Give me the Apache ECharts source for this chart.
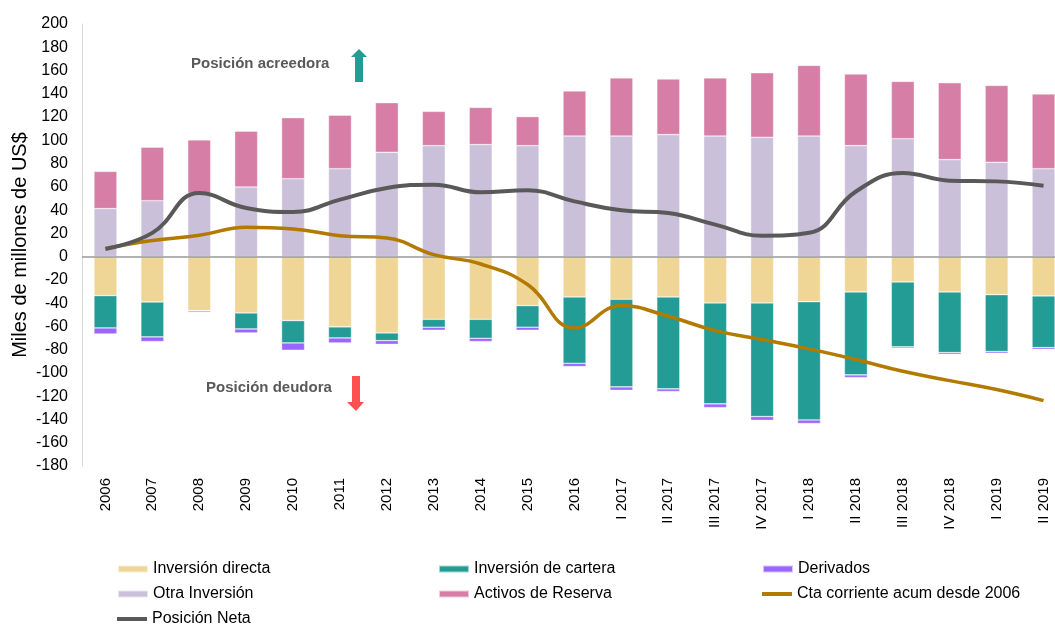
<!DOCTYPE html>
<html>
<head>
<meta charset="utf-8">
<script src="https://cdn.jsdelivr.net/npm/echarts@6/dist/echarts.min.js"></script>
<style>
  html, body { margin: 0; padding: 0; background: #fff; }
  #chart { width: 1055px; height: 628px; }
</style>
</head>
<body>
<div id="chart"></div>
<script>
// periodos
const categories = ['2006', '2007', '2008', '2009', '2010', '2011', '2012', '2013', '2014', '2015', '2016',
  'I 2017', 'II 2017', 'III 2017', 'IV 2017', 'I 2018', 'II 2018', 'III 2018', 'IV 2018', 'I 2019', 'II 2019'];

// pasivos (negativos)
const directa = [-33.5, -39, -46.4, -48.4, -55, -60.4, -65.6, -53.9, -53.9, -42.1, -34.7, -36.7, -34.7, -39.8, -39.8, -38.7, -30.4, -21.8, -30.4, -32.7, -33.8];
const cartera = [-27.8, -30, -0.3, -13.8, -19.2, -9.5, -6.6, -6.8, -16.3, -18.6, -57, -75.3, -79, -86.8, -97.7, -101.7, -71.3, -55.8, -52.1, -48.9, -44.4];
const derivados = [-5.2, -4, -1.2, -3.4, -6.3, -4.3, -3.2, -2.6, -2.8, -2.6, -2.8, -2.9, -2.3, -3.2, -3.2, -3.1, -2.3, -1.2, -1.5, -1.5, -1.5];

// activos (positivos)
const otra = [41.3, 48.1, 54.4, 59.9, 67, 75.6, 89.7, 95.4, 96.3, 95.4, 103.7, 103.7, 104.9, 103.7, 102.6, 103.7, 95.4, 101.4, 83.4, 81.1, 75.6];
const reserva = [32, 46, 46, 48, 52.5, 46, 42.7, 29.5, 32, 25, 38.7, 50, 47.8, 50, 55.5, 60.7, 61.6, 49.3, 66.1, 66.1, 64.2];

// lineas
const neta = [6.6, 20.4, 54.7, 41.8, 38.4, 49, 59, 61.9, 55.3, 57, 47.5, 39.8, 37.5, 27.5, 18, 20.5, 56, 71.9, 65.3, 64.7, 61];
const ctaCorriente = [7, 13.8, 18.3, 25.2, 23.8, 18, 16, 1.7, -6.3, -24, -61.3, -42.1, -51.3, -63.6, -71.3, -79.3, -88.5, -98.6, -106.6, -114.3, -123.8];

const chart = echarts.init(document.getElementById('chart'), null, { renderer: 'canvas' });

const font = 'Liberation Sans, Arial, sans-serif';

function bar(name, data, color) {
  return {
    name: name,
    type: 'bar',
    stack: 'total',
    barWidth: 23,
    data: data,
    itemStyle: { color: color, borderColor: 'rgba(255,255,255,0.6)', borderWidth: 0.6 },
    emphasis: { disabled: true }
  };
}

function legendAt(name, left, top, h) {
  return {
    data: [{ name: name, icon: 'rect' }],
    left: left,
    top: top,
    padding: 0,
    itemWidth: 30,
    itemHeight: h || 7,
    selectedMode: false,
    textStyle: { fontFamily: font, fontSize: 16, color: '#000' }
  };
}

const option = {
  animation: false,
  textStyle: { fontFamily: font },
  grid: { left: 82, top: 24, bottom: 162, width: 985, outerBoundsMode: 'none', containLabel: false },
  legend: [
    legendAt('Inversión directa', 117, 561),
    legendAt('Inversión de cartera', 438, 561),
    legendAt('Derivados', 762, 561),
    legendAt('Otra Inversión', 117, 586),
    legendAt('Activos de Reserva', 438, 586),
    legendAt('Cta corriente acum desde 2006', 762, 586, 4),
    legendAt('Posición Neta', 117, 611, 4)
  ],
  xAxis: {
    type: 'category',
    data: categories,
    axisLine: { show: false, onZero: false },
    axisTick: { show: false },
    axisLabel: { rotate: 90, fontSize: 15, color: '#000', margin: 12, interval: 0 }
  },
  yAxis: {
    type: 'value',
    min: -180,
    max: 200,
    interval: 20,
    name: 'Miles de millones de US$',
    nameLocation: 'middle',
    nameGap: 52,
    nameMoveOverlap: false,
    nameTextStyle: { fontSize: 20, color: '#000' },
    axisLine: { show: true, lineStyle: { color: '#d9d9d9' } },
    axisTick: { show: false },
    splitLine: { show: false },
    axisLabel: { fontSize: 16, color: '#000', margin: 14 }
  },
  graphic: [
    {
      type: 'text', left: 191, top: 56,
      style: { text: 'Posición acreedora', fill: '#595959', font: 'bold 15px ' + font }
    },
    {
      type: 'polygon',
      shape: { points: [[359, 49], [367, 57], [363, 57], [363, 82], [355, 82], [355, 57], [351, 57]] },
      style: { fill: '#229C95' }
    },
    {
      type: 'text', left: 206, top: 380,
      style: { text: 'Posición deudora', fill: '#595959', font: 'bold 15px ' + font }
    },
    {
      type: 'polygon',
      shape: { points: [[352, 376], [360, 376], [360, 402], [364, 402], [356, 411], [347, 402], [352, 402]] },
      style: { fill: '#FF5050' }
    }
  ],
  series: [
    Object.assign(bar('Inversión directa', directa, '#F0D696'), {
      markLine: {
        silent: true,
        symbol: 'none',
        label: { show: false },
        lineStyle: { color: '#999', width: 1.5, type: 'solid' },
        data: [{ yAxis: 0 }]
      }
    }),
    bar('Inversión de cartera', cartera, '#229C95'),
    bar('Derivados', derivados, '#9966FF'),
    bar('Otra Inversión', otra, '#CBC0DA'),
    bar('Activos de Reserva', reserva, '#D77EA7'),
    {
      name: 'Cta corriente acum desde 2006',
      type: 'line',
      data: ctaCorriente,
      smooth: 0.45,
      symbol: 'none',
      z: 5,
      lineStyle: { color: '#B37A00', width: 3.5 },
      itemStyle: { color: '#B37A00' }
    },
    {
      name: 'Posición Neta',
      type: 'line',
      data: neta,
      smooth: 0.45,
      symbol: 'none',
      z: 6,
      lineStyle: { color: '#595959', width: 4 },
      itemStyle: { color: '#595959' }
    }
  ]
};

chart.setOption(option);
</script>
</body>
</html>
